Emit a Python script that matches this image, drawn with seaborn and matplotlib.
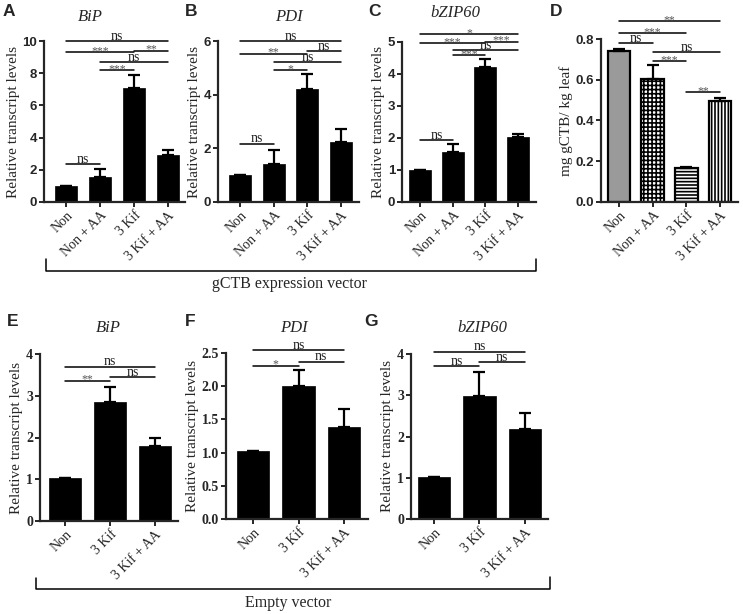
import numpy as np
import pandas as pd
import matplotlib.pyplot as plt
import seaborn as sns

sns.set_style("white")
plt.rcParams["hatch.linewidth"] = 1.2

SERIF = "Liberation Serif"
SANS = "Liberation Sans"

cats4 = ["Non", "Non + AA", "3 Kif", "3 Kif + AA"]
cats3 = ["Non", "3 Kif", "3 Kif + AA"]

# gCTB expression vector
bip_g = [1.0, 1.55, 7.05, 2.95]
bip_g_err = [0.0, 0.50, 0.82, 0.28]
pdi_g = [1.0, 1.43, 4.21, 2.25]
pdi_g_err = [0.0, 0.50, 0.57, 0.47]
bzip_g = [1.0, 1.55, 4.23, 2.04]
bzip_g_err = [0.0, 0.27, 0.25, 0.09]
gctb = [0.74, 0.605, 0.165, 0.494]
gctb_err = [0.013, 0.065, 0.007, 0.016]

# empty vector
bip_e = [1.02, 2.86, 1.80]
bip_e_err = [0.0, 0.35, 0.19]
pdi_e = [1.02, 2.00, 1.39]
pdi_e_err = [0.0, 0.24, 0.26]
bzip_e = [1.03, 2.99, 2.19]
bzip_e_err = [0.0, 0.57, 0.37]

# significance: (from, to, height, label)
sig_bip_g = [(0, 1, 2.35, "ns"), (1, 2, 8.2, "***"), (1, 3, 8.7, "ns"),
             (0, 2, 9.3, "***"), (2, 3, 9.4, "**"), (0, 3, 10.0, "ns")]
sig_pdi_g = [(0, 1, 2.17, "ns"), (1, 2, 4.91, "*"), (1, 3, 5.2, "ns"),
             (0, 2, 5.53, "**"), (2, 3, 5.63, "ns"), (0, 3, 6.0, "ns")]
sig_bzip_g = [(0, 1, 1.94, "ns"), (1, 2, 4.59, "***"), (1, 3, 4.75, "ns"),
              (0, 2, 4.96, "***"), (2, 3, 5.01, "***"), (0, 3, 5.25, "*")]
sig_gctb = [(2, 3, 0.54, "**"), (1, 2, 0.69, "***"), (1, 3, 0.735, "ns"),
            (0, 1, 0.779, "ns"), (0, 2, 0.828, "***"), (0, 3, 0.886, "**")]
sig_bip_e = [(0, 1, 3.36, "**"), (1, 2, 3.45, "ns"), (0, 2, 3.7, "ns")]
sig_pdi_e = [(0, 1, 2.31, "*"), (1, 2, 2.37, "ns"), (0, 2, 2.54, "ns")]
sig_bzip_e = [(0, 1, 3.7, "ns"), (1, 2, 3.8, "ns"), (0, 2, 4.06, "ns")]

W, H = 743, 614
fig = plt.figure(figsize=(W / 100, H / 100), dpi=100)


def panel(box, cats, vals, errs, yticks, ylabel, sigs, tick_font,
          width, colors=None, hatches=None, fmt="{:g}"):
    x0, x1, ytop, ybot, c0, c1 = box
    ax = fig.add_axes([x0 / W, 1 - ybot / H, (x1 - x0) / W, (ybot - ytop) / H])
    df = pd.DataFrame({"group": cats, "value": vals})
    if colors is None:
        sns.barplot(data=df, x="group", y="value", color="black",
                    width=width, ax=ax, order=cats, errorbar=None,
                    edgecolor="black", linewidth=0.5, saturation=1)
    else:
        sns.barplot(data=df, x="group", y="value", hue="group",
                    palette=colors, width=width, ax=ax, order=cats,
                    errorbar=None, legend=False, edgecolor="black",
                    linewidth=1.6, saturation=1)
        for patch, h in zip(ax.patches, hatches):
            patch.set_hatch(h)
    n = len(cats)
    pos = np.arange(n)
    ax.errorbar(pos, vals, yerr=[np.zeros(n), errs], fmt="none",
                ecolor="black", elinewidth=1.6, capsize=4.5, capthick=1.6,
                zorder=5)
    unit = (c1 - c0) / (n - 1)
    ax.set_xlim(-(c0 - x0) / unit, (n - 1) + (x1 - c1) / unit)
    ax.set_ylim(0, yticks[-1])
    ax.set_yticks(yticks)
    tsize = 9.5 if tick_font == SANS else 10
    ax.set_yticklabels([fmt.format(t) for t in yticks], fontfamily=tick_font,
                       fontweight="bold", fontsize=tsize)
    ax.set_xticks(pos)
    ax.set_xticklabels(cats, rotation=45, ha="right", rotation_mode="anchor",
                       fontfamily=SERIF, fontsize=10)
    ax.set_xlabel("")
    ax.set_ylabel(ylabel, fontfamily=SERIF, fontsize=11, labelpad=2)
    for s in ["top", "right"]:
        ax.spines[s].set_visible(False)
    for s in ["left", "bottom"]:
        ax.spines[s].set_linewidth(1.6)
    ax.tick_params(axis="both", direction="out", length=3.5, width=1.4,
                   pad=1.5, left=True, bottom=True)
    for i, j, y, lab in sigs:
        ax.plot([i, j], [y, y], color="black", lw=1.1, clip_on=False)
        if lab == "ns":
            ax.annotate(lab, ((i + j) / 2, y), xytext=(0, 1),
                        textcoords="offset points", ha="center",
                        va="baseline", fontfamily=SERIF, fontsize=10,
                        color="#222222", annotation_clip=False)
        else:
            ax.annotate(lab, ((i + j) / 2, y), xytext=(0, -1.5),
                        textcoords="offset points", ha="center",
                        va="baseline", fontfamily=SERIF, fontsize=8.5,
                        color="#555555", annotation_clip=False)
    return ax


ylab = "Relative transcript levels"
panel((44, 185, 41, 202, 66, 168), cats4, bip_g, bip_g_err,
      [0, 2, 4, 6, 8, 10], ylab, sig_bip_g, SANS, 0.65)
panel((218, 359, 41, 202, 240, 341), cats4, pdi_g, pdi_g_err,
      [0, 2, 4, 6], ylab, sig_pdi_g, SANS, 0.65)
panel((402, 536, 42, 202, 420, 518), cats4, bzip_g, bzip_g_err,
      [0, 1, 2, 3, 4, 5], ylab, sig_bzip_g, SANS, 0.67)
panel((601, 738, 39, 202, 619, 720), cats4, gctb, gctb_err,
      [0.0, 0.2, 0.4, 0.6, 0.8], "mg gCTB/ kg leaf", sig_gctb, SANS, 0.67,
      colors=["#9a9a9a", "white", "white", "white"],
      hatches=["", "++++", "-----", "|||||"], fmt="{:.1f}")
panel((40, 178, 354, 521, 65, 155), cats3, bip_e, bip_e_err,
      [0, 1, 2, 3, 4], ylab, sig_bip_e, SERIF, 0.72)
panel((226, 368, 353, 519, 253, 344), cats3, pdi_e, pdi_e_err,
      [0.0, 0.5, 1.0, 1.5, 2.0, 2.5], ylab, sig_pdi_e, SERIF, 0.72,
      fmt="{:.1f}")
panel((411, 548, 354, 519, 434, 525), cats3, bzip_e, bzip_e_err,
      [0, 1, 2, 3, 4], ylab, sig_bzip_e, SERIF, 0.72)

# overlay for letters, titles and brackets (pixel coordinates)
ov = fig.add_axes([0, 0, 1, 1])
ov.set_xlim(0, W)
ov.set_ylim(H, 0)
ov.set_axis_off()

for letter, x, y in [("A", 3, 11), ("B", 185, 11), ("C", 368, 11),
                     ("D", 550, 12), ("E", 7, 321), ("F", 185, 321),
                     ("G", 364, 321)]:
    ov.text(x, y, letter, fontfamily=SANS, fontweight="bold", fontsize=12.5,
            ha="left", va="center")

for title, x, y in [("BiP", 90, 17), ("PDI", 289, 17), ("bZIP60", 455, 13),
                    ("BiP", 108, 328), ("PDI", 294, 328),
                    ("bZIP60", 482, 328)]:
    ov.text(x, y, title, fontfamily=SERIF, fontstyle="italic", fontsize=12,
            ha="center", va="center")

ov.plot([46, 46, 536, 536], [259, 271, 271, 259], color="black", lw=1.1)
ov.text(289, 284, "gCTB expression vector", fontfamily=SERIF, fontsize=11.5,
        ha="center", va="center")
ov.plot([36, 36, 550, 550], [578, 589, 589, 577], color="black", lw=1.1)
ov.text(288, 603, "Empty vector", fontfamily=SERIF, fontsize=11.5,
        ha="center", va="center")

fig.savefig("out.png", dpi=100)
